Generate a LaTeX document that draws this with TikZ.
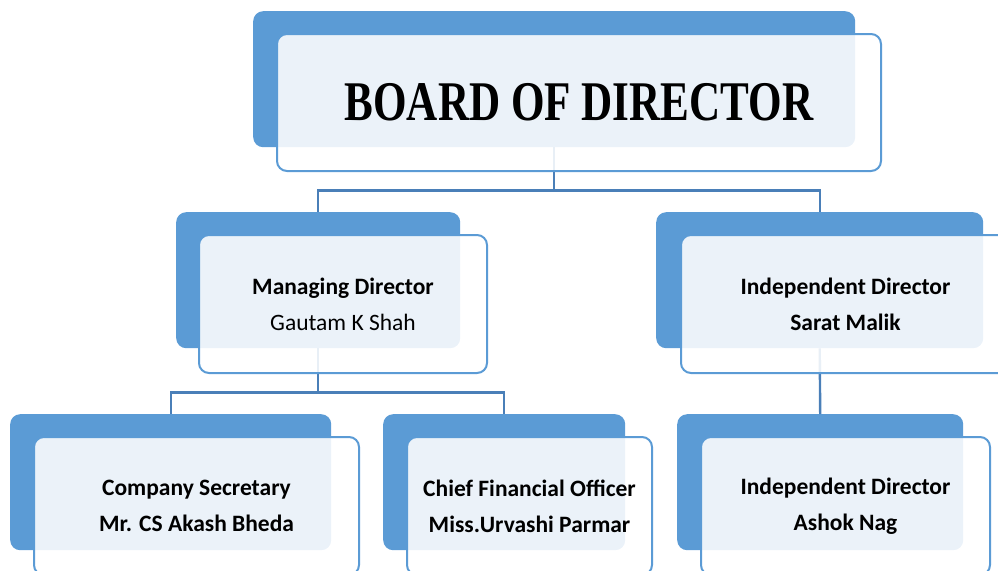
\documentclass[tikz,border=0pt]{standalone}
\usepackage{fontspec}
\setmainfont{Carlito}
\newfontfamily\titlefont{Liberation Serif}
\usetikzlibrary{positioning}

\definecolor{boxblue}{HTML}{5B9BD5}
\definecolor{linkblue}{HTML}{4A7FB8}

\tikzset{
    back/.style={fill=boxblue, rounded corners=10pt, minimum height=136pt, anchor=north west, inner sep=0pt},
    front/.style={draw=boxblue, line width=2pt, fill=white, fill opacity=0.88, text opacity=1, rounded corners=10pt,
                  minimum height=138pt, inner sep=0pt, align=center, font=\fontsize{23.5}{36}\selectfont},
    link/.style={draw=linkblue, line width=2.4pt}
}

\begin{document}
\begin{tikzpicture}[x=1pt, y=-1pt]
        \useasboundingbox (0,0) rectangle (998,570);

        % blue boxes at the back
        \node[back, minimum width=602pt] (bod-back) at (253,11) {};
        \node[back, minimum width=284pt] (md-back)  at (176,212) {};
        \node[back, minimum width=327pt] (id1-back) at (656,212) {};
        \node[back, minimum width=321pt] (cs-back)  at (10,414) {};
        \node[back, minimum width=242pt] (cfo-back) at (383,414) {};
        \node[back, minimum width=286pt] (id2-back) at (677,414) {};

        % connectors, from the middle of each blue box
        \draw[link] (bod-back.south) -- ++(0,43) -| (md-back.north);
        \draw[link] (bod-back.south) -- ++(0,43) -| (id1-back.north);
        \draw[link] (md-back.south) -- ++(0,44) -| (cs-back.north);
        \draw[link] (md-back.south) -- ++(0,44) -| (cfo-back.north);
        \draw[link] (id1-back.south) -- (id2-back.north);

        % outlined boxes in front, holding the text
        \node[front, minimum width=604pt, minimum height=137pt, below right=22pt and 23pt of bod-back.north west] (bod)
            {\titlefont\bfseries\fontsize{56}{56}\selectfont\scalebox{0.77}[1]{BOARD OF DIRECTOR}};
        \node[front, minimum width=288pt, below right=22pt and 22pt of md-back.north west] (md)
            {\textbf{Managing Director}\\Gautam K Shah};
        \node[front, minimum width=329pt, below right=22pt and 24pt of id1-back.north west] (id1)
            {\textbf{Independent Director}\\\textbf{Sarat Malik}};
        \node[front, minimum width=325pt, below right=22pt and 23pt of cs-back.north west] (cs)
            {\textbf{Company Secretary}\\\textbf{Mr. CS Akash Bheda}};
        \node[front, minimum width=245pt, below right=22pt and 23pt of cfo-back.north west] (cfo)
            {\textbf{Chief Financial Officer}\\\textbf{Miss.Urvashi Parmar}};
        \node[front, minimum width=289pt, below right=22pt and 23pt of id2-back.north west] (id2)
            {\textbf{Independent Director}\\\textbf{Ashok Nag}};
\end{tikzpicture}
\end{document}
